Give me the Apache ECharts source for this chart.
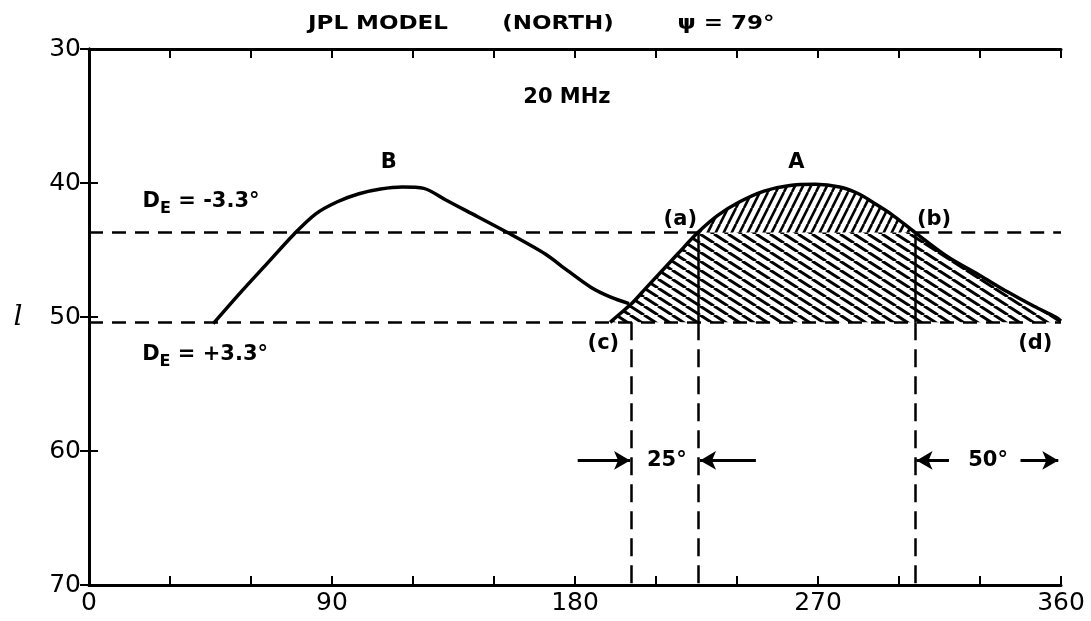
<!DOCTYPE html>
<html>
<head>
<meta charset="utf-8">
<script src="https://cdn.jsdelivr.net/npm/echarts@6/dist/echarts.min.js"></script>
<style>
  html, body { margin: 0; padding: 0; background: #fff; }
  #main { width: 1091px; height: 621px; }
</style>
</head>
<body>
<div id="main"></div>
<script>
// axis ticks
var xTicks = [0, 90, 180, 270, 360];
var yTicks = [30, 40, 50, 60, 70];

// curve A (right peak) : longitude vs l
var curveA_x = [193, 197, 201, 206, 212, 218, 225.5, 233, 241, 250, 259, 269, 278, 285, 290, 297, 306, 318, 330, 340, 350, 358, 360];
var curveA_l = [50.4, 49.7, 49.0, 47.9, 46.6, 45.3, 43.7, 42.4, 41.4, 40.6, 40.2, 40.1, 40.3, 40.8, 41.4, 42.3, 43.7, 45.5, 46.9, 48.1, 49.2, 50.0, 50.3];

// curve B (left peak)
var curveB_x = [46, 56, 66, 76, 84, 92, 100, 108, 116, 124, 132, 140, 155, 169, 177, 186, 193, 200];
var curveB_l = [50.5, 48.2, 46.0, 43.8, 42.3, 41.4, 40.8, 40.45, 40.3, 40.4, 41.25, 42.1, 43.7, 45.3, 46.5, 47.8, 48.5, 49.0];

// D_E levels and cut longitudes
var levelMinus = 43.7;   // D_E = -3.3
var levelPlus = 50.4;    // D_E = +3.3
var cutC = 200.7;
var cutA = 225.5;
var cutB = 306;

// text annotations [x, l, text]
var notes = [
  [111, 38.5, 'B'],
  [262, 38.5, 'A'],
  [177, 33.6, '20 MHz'],
  [219, 42.7, '(a)'],
  [313, 42.7, '(b)'],
  [190.5, 52.0, '(c)'],
  [350.5, 52.0, '(d)'],
  [41.5, 41.4, 'D{s|E} = -3.3°'],
  [43, 52.8, 'D{s|E} = +3.3°'],
  [214, 60.7, '25°'],
  [333, 60.7, '50°']
];

// dimension arrows [from, to, l]
var arrows = [
  [181, 200.4, 60.7],
  [247, 226.3, 60.7],
  [318.5, 306.5, 60.7],
  [345, 359, 60.7]
];

var titleParts = ['JPL MODEL', '(NORTH)', 'ψ = 79°'];

var FONT = 'DejaVu Sans';

function hatch(w, h, up, lw) {
  var c = document.createElement('canvas');
  c.width = w; c.height = h;
  var g = c.getContext('2d');
  g.strokeStyle = '#000';
  g.lineWidth = lw;
  g.beginPath();
  for (var k = -1; k <= 1; k++) {
    if (up) { g.moveTo(k * w, h); g.lineTo(k * w + w, 0); }
    else { g.moveTo(k * w, 0); g.lineTo(k * w + w, h); }
  }
  g.stroke();
  return c;
}

var ptsA = curveA_x.map(function (x, i) { return [x, curveA_l[i]]; });
var ptsB = curveB_x.map(function (x, i) { return [x, curveB_l[i]]; });
var lowRegion = curveA_x.map(function (x, i) { return [x, Math.max(curveA_l[i], levelMinus)]; });
var capRegion = ptsA.filter(function (p) { return p[0] >= cutA && p[0] <= cutB; });

var chart = echarts.init(document.getElementById('main'));

var dashH = { color: '#000', width: 2.5, type: [14, 9] };
var dashV = { color: '#000', width: 2.5, type: [18, 9] };
var solid = { color: '#000', width: 2.5, type: 'solid' };

function seg(x1, y1, x2, y2, style) {
  return [{ coord: [x1, y1], lineStyle: style }, { coord: [x2, y2] }];
}

var guideLines = [
  seg(0, levelMinus, cutA, levelMinus, dashH),
  seg(cutB, levelMinus, 360, levelMinus, dashH),
  seg(0, levelPlus, 360, levelPlus, dashH),
  seg(cutC, levelPlus, cutC, 70, dashV),
  seg(cutA, levelPlus, cutA, 70, dashV),
  seg(cutB, levelPlus, cutB, 70, dashV),
  seg(cutA, levelMinus, cutA, levelPlus, solid),
  seg(cutB, levelMinus, cutB, levelPlus, solid)
];

var arrowLines = arrows.map(function (a) {
  return [{ coord: [a[0], a[2]] }, { coord: [a[1], a[2]] }];
});

var axisBase = {
  type: 'value',
  axisLine: { show: true, lineStyle: { color: '#000', width: 3 } },
  axisTick: { show: true, inside: true, length: 9, lineStyle: { color: '#000', width: 2 } },
  splitLine: { show: false }
};

var tickFont = { color: '#000', fontSize: 25, fontFamily: FONT, margin: 8 };

function titleText(x, txt) {
  return {
    type: 'text', x: x, y: 24, scaleX: 1.15,
    style: { text: txt, fontSize: 20, fontWeight: 'bold', fontFamily: FONT, fill: '#000', align: 'center', verticalAlign: 'middle' }
  };
}

chart.setOption({
  animation: false,
  backgroundColor: '#fff',
  grid: { left: 89, right: 30, top: 49, bottom: 36 },
  xAxis: [
    Object.assign({}, axisBase, {
      min: 0, max: 360, interval: 30, position: 'bottom',
      axisLabel: Object.assign({}, tickFont, {
        margin: 6,
        formatter: function (v) { return xTicks.indexOf(v) >= 0 ? String(v) : ''; }
      })
    }),
    Object.assign({}, axisBase, {
      min: 0, max: 360, interval: 30, position: 'top', axisLabel: { show: false }
    })
  ],
  yAxis: [
    Object.assign({}, axisBase, {
      min: 30, max: 70, interval: 10, inverse: true, position: 'left',
      axisLabel: Object.assign({}, tickFont, {
        formatter: function (v) { return yTicks.indexOf(v) >= 0 ? String(v) : ''; }
      })
    }),
    Object.assign({}, axisBase, {
      min: 30, max: 70, interval: 10, inverse: true, position: 'right', axisLabel: { show: false }
    })
  ],
  graphic: [
    titleText(378, titleParts[0]),
    titleText(558, titleParts[1]),
    titleText(726, titleParts[2]),
    { type: 'text', x: 18, y: 318, style: { text: 'l', fontSize: 28, fontStyle: 'italic', fontFamily: 'DejaVu Serif', fill: '#000', align: 'center', verticalAlign: 'middle' } }
  ],
  series: [
    {
      name: 'hatch-low', type: 'line', data: lowRegion, showSymbol: false, silent: true, z: 1,
      lineStyle: { width: 0 },
      areaStyle: { origin: levelPlus, opacity: 1, color: { image: hatch(14, 9, false, 3), repeat: 'repeat' } }
    },
    {
      name: 'hatch-cap', type: 'line', data: capRegion, showSymbol: false, silent: true, z: 1, smooth: 0.3,
      lineStyle: { width: 0 },
      areaStyle: { origin: levelMinus, opacity: 1, color: { image: hatch(8, 16, true, 2.6), repeat: 'repeat' } }
    },
    {
      name: 'A', type: 'line', data: ptsA, showSymbol: false, smooth: 0.3, z: 3,
      lineStyle: { color: '#000', width: 3.5 }
    },
    {
      name: 'B', type: 'line', data: ptsB, showSymbol: false, smooth: 0.3, z: 3,
      lineStyle: { color: '#000', width: 3.5 }
    },
    {
      name: 'guides', type: 'line', data: [], z: 2,
      markLine: {
        silent: true, symbol: 'none', animation: false, label: { show: false },
        lineStyle: { color: '#000', width: 2.5 },
        data: guideLines
      }
    },
    {
      name: 'arrows', type: 'line', data: [], z: 2,
      markLine: {
        silent: true, symbol: ['none', 'arrow'], symbolSize: [14, 16], animation: false,
        label: { show: false },
        lineStyle: { color: '#000', width: 3, type: 'solid' },
        data: arrowLines
      }
    },
    {
      name: 'notes', type: 'scatter', symbolSize: 0, silent: true, z: 4, clip: false,
      itemStyle: { opacity: 1, color: '#000' },
      data: notes.map(function (n) {
        return { value: [n[0], n[1]], label: { formatter: n[2], color: '#000' } };
      }),
      label: {
        show: true, position: 'inside', color: '#000', opacity: 1, textBorderWidth: 0,
        fontSize: 21, fontWeight: 'bold', fontFamily: FONT,
        rich: { s: { fontSize: 16, fontWeight: 'bold', fontFamily: FONT, color: '#000', padding: [15, 0, 0, 0] } }
      }
    }
  ]
});
</script>
</body>
</html>
